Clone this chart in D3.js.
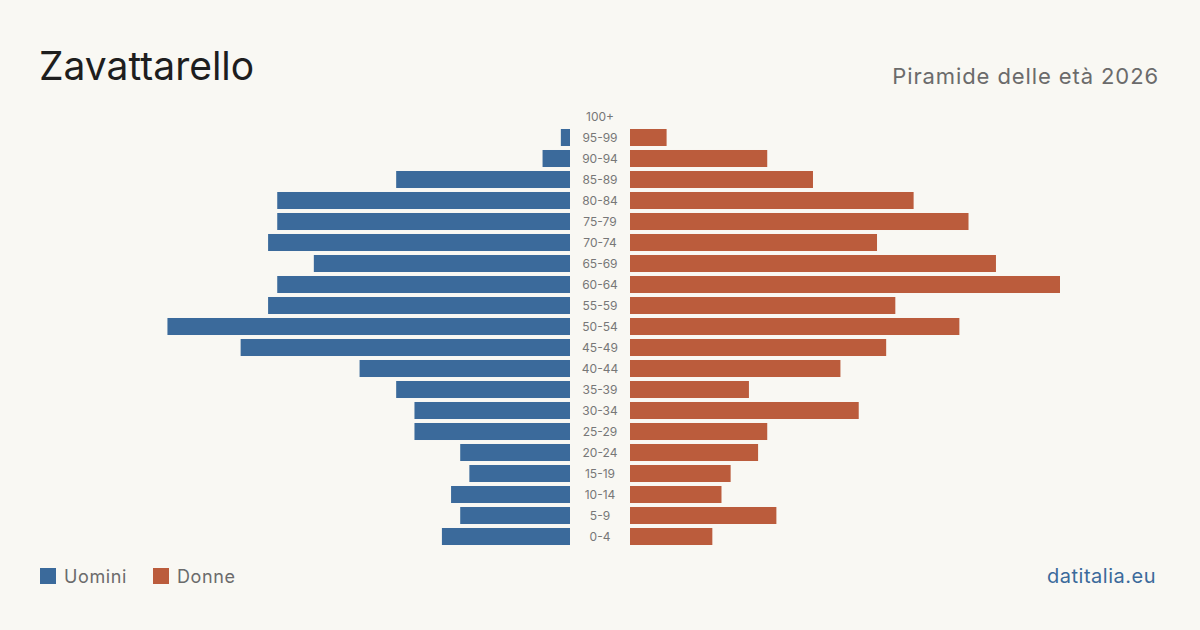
<!DOCTYPE html>
<html>
<head>
	<meta charset="UTF-8">
	<title>Zavattarello</title>
	<script src="https://cdn.jsdelivr.net/npm/d3@7"></script>
	<style>
		body { margin: 0; background: #f9f8f3; }
		text { font-family: Inter, "Noto Sans", sans-serif; }
	</style>
</head>
<body>
	<script>
		// data
		var ageGroups = ['100+', '95-99', '90-94', '85-89', '80-84', '75-79', '70-74', '65-69', '60-64', '55-59',
			'50-54', '45-49', '40-44', '35-39', '30-34', '25-29', '20-24', '15-19', '10-14', '5-9', '0-4'];
		var men   = [0, 1, 3, 19, 32, 32, 33, 28, 32, 33, 44, 36, 23, 19, 17, 17, 12, 11, 13, 12, 14];
		var women = [0, 4, 15, 20, 31, 37, 27, 40, 47, 29, 36, 28, 23, 13, 25, 15, 14, 11, 10, 16, 9];
		var legendLabels = ['Uomini', 'Donne'];

		var W = 1200, H = 630;
		var blue = '#3b6a9b', red = '#bb5c3c';

		var svg = d3.select('body').append('svg')
			.attr('width', W).attr('height', H);

		svg.append('rect').attr('width', W).attr('height', H).attr('fill', '#f9f8f3');

		// scales
		var y = d3.scaleBand().domain(ageGroups).range([106, 547]).paddingInner(0.19).paddingOuter(0.095);
		var xMax = d3.max(men.concat(women));
		var xl = d3.scaleLinear().domain([0, xMax]).range([570, 140]);
		var xr = d3.scaleLinear().domain([0, xMax]).range([630, 1060]);

		var rows = ageGroups.map(function(a, i) { return {age: a, m: men[i], f: women[i]}; });

		svg.selectAll('.men').data(rows).enter().append('rect')
			.attr('x', function(d) { return xl(d.m); })
			.attr('y', function(d) { return y(d.age); })
			.attr('width', function(d) { return xl(0) - xl(d.m); })
			.attr('height', y.bandwidth())
			.attr('fill', blue);

		svg.selectAll('.women').data(rows).enter().append('rect')
			.attr('x', xr(0))
			.attr('y', function(d) { return y(d.age); })
			.attr('width', function(d) { return xr(d.f) - xr(0); })
			.attr('height', y.bandwidth())
			.attr('fill', red);

		// age labels in the middle
		svg.selectAll('.age').data(ageGroups).enter().append('text')
			.attr('x', 600)
			.attr('y', function(d) { return y(d) + y.bandwidth() / 2; })
			.attr('dy', '0.35em')
			.attr('text-anchor', 'middle')
			.attr('font-size', 12)
			.attr('fill', '#777')
			.text(function(d) { return d; });

		// titles
		svg.append('text').attr('x', 39).attr('y', 80)
			.attr('font-size', 39).attr('fill', '#1e1e1e')
			.text('Zavattarello');
		svg.append('text').attr('x', 1159).attr('y', 84)
			.attr('text-anchor', 'end').attr('font-size', 22).attr('fill', '#6b6b6b')
			.attr('letter-spacing', 0.9)
			.text('Piramide delle età 2026');

		// legend
		var lg = svg.append('g');
		var lx = [40, 153];
		legendLabels.forEach(function(l, i) {
			lg.append('rect').attr('x', lx[i]).attr('y', 568).attr('width', 16).attr('height', 16)
				.attr('fill', i === 0 ? blue : red);
			lg.append('text').attr('x', lx[i] + 24).attr('y', 583)
				.attr('font-size', 18).attr('fill', '#6b6b6b').attr('letter-spacing', 0.6).text(l);
		});

		svg.append('text').attr('x', 1156).attr('y', 583)
			.attr('text-anchor', 'end').attr('font-size', 20).attr('fill', '#3b6a9b')
			.attr('letter-spacing', 0.5)
			.text('datitalia.eu');
	</script>
</body>
</html>
